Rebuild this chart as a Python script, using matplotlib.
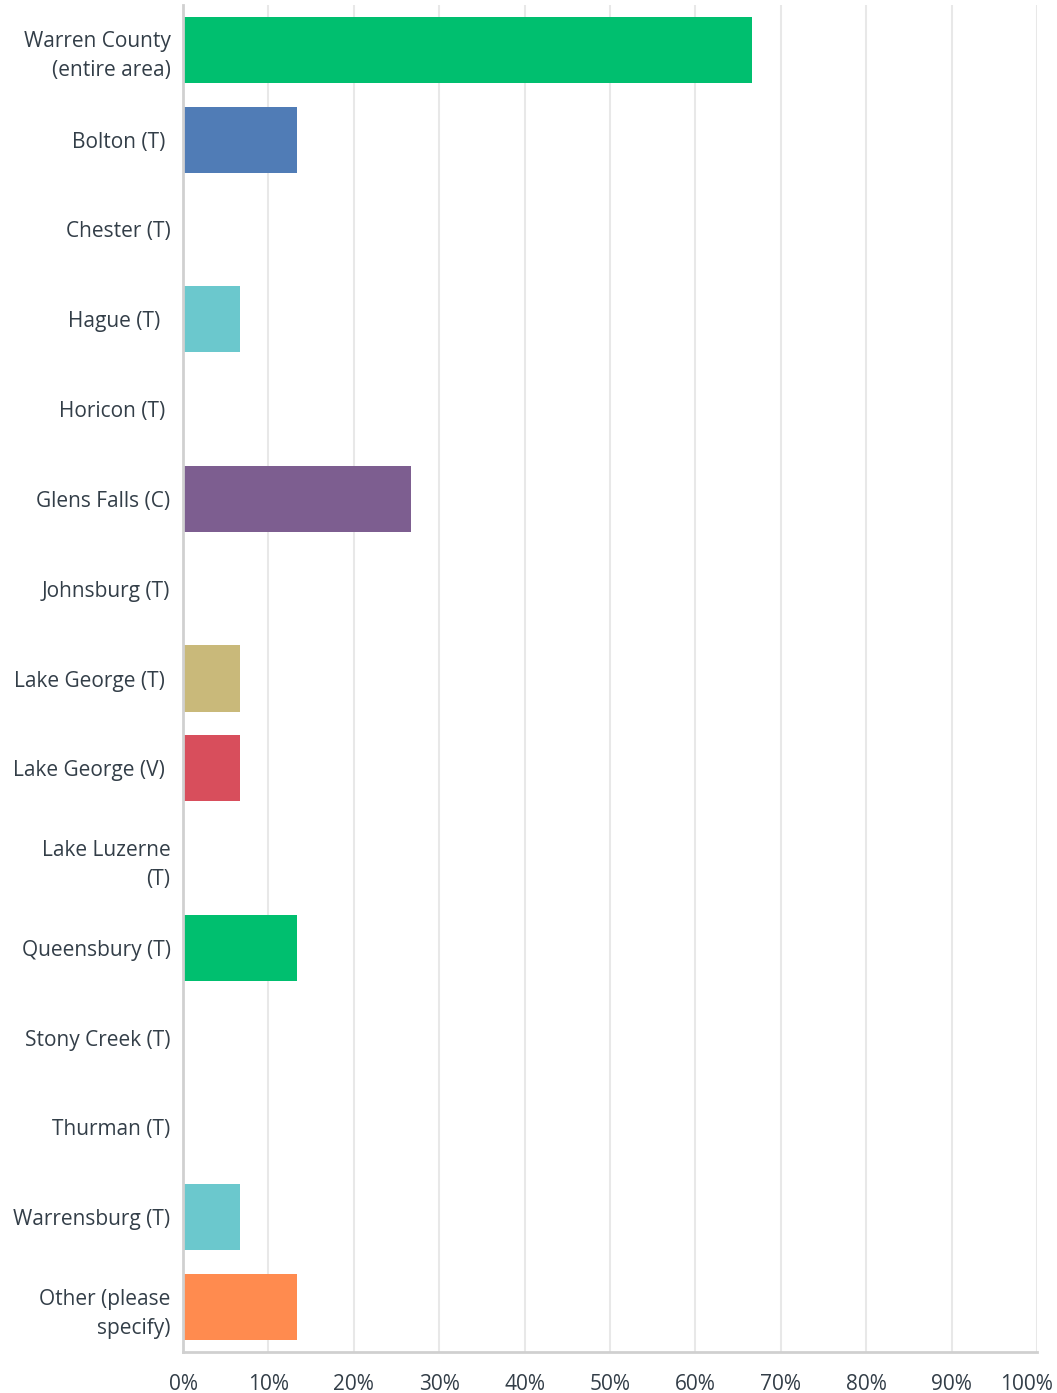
import matplotlib
matplotlib.use("Agg")
import numpy as np
from matplotlib import pyplot as plt
from matplotlib.ticker import FuncFormatter
from matplotlib.transforms import ScaledTranslation

# answer choices, top to bottom
labels = [
    "Warren County\n(entire area)",
    "Bolton (T) ",
    "Chester (T)",
    "Hague (T)  ",
    "Horicon (T) ",
    "Glens Falls (C)",
    "Johnsburg (T)",
    "Lake George (T) ",
    "Lake George (V) ",
    "Lake Luzerne\n(T)",
    "Queensbury (T)",
    "Stony Creek (T)",
    "Thurman (T)",
    "Warrensburg (T)",
    "Other (please\nspecify)",
]
percents = [66.67, 13.33, 0, 6.67, 0, 26.67, 0, 6.67, 6.67, 0, 13.33, 0, 0, 6.67, 13.33]
colors = ["#00BF6F", "#507CB6", "#F9BE00", "#6BC8CD", "#FF8B4F", "#7D5E90", "#BAB6AA",
          "#C9B97A", "#D84E5C", "#507CB6", "#00BF6F", "#F9BE00", "#7D5E90", "#6BC8CD", "#FF8B4F"]
xticks = np.arange(0, 101, 10)

plt.rcParams['font.family'] = ['Open Sans', 'DejaVu Sans']
text_col = '#333e48'

fig = plt.figure(figsize=(10.57, 13.93), dpi=100)
ax = fig.add_axes([183 / 1057, 1 - 1352 / 1393, (1037 - 183) / 1057, (1352 - 5) / 1393])

y = np.arange(len(labels))
ax.barh(y, percents, height=0.735, color=colors, zorder=3)

ax.set_xlim(0, 100)
ax.set_ylim(len(labels) - 0.5, -0.5)
ax.set_xticks(xticks)
ax.xaxis.set_major_formatter(FuncFormatter(lambda v, p: f"{v:.0f}%"))
ax.set_yticks(y)
ax.set_yticklabels(labels, linespacing=1.5)

ax.grid(axis='x', color='#e8e8e8', linewidth=1.5, zorder=0)
ax.tick_params(axis='both', length=0, labelsize=15, colors=text_col)
ax.tick_params(axis='y', pad=9)
ax.tick_params(axis='x', pad=16)

# last tick label sits a bit to the left so it stays inside the figure
last = ax.xaxis.get_major_ticks()[-1].label1
last.set_transform(last.get_transform() + ScaledTranslation(-11 / 100, 0, fig.dpi_scale_trans))

for s in ['top', 'right']:
    ax.spines[s].set_visible(False)
for s in ['left', 'bottom']:
    ax.spines[s].set_color('#d0d0d0')
    ax.spines[s].set_linewidth(2)
    ax.spines[s].set_zorder(4)

plt.savefig("out.png", dpi=100)
